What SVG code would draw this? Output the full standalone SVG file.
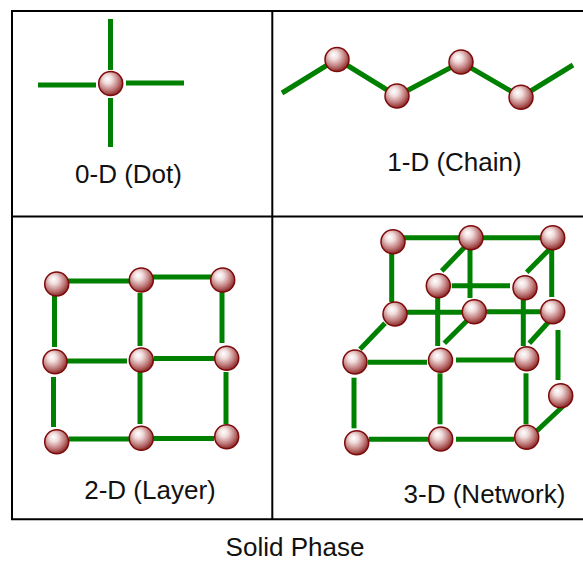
<svg xmlns="http://www.w3.org/2000/svg" xmlns:xlink="http://www.w3.org/1999/xlink" width="583" height="561" viewBox="0 0 583 561">
  <defs>
    <radialGradient id="ball" cx="0.42" cy="0.38" r="0.62" fx="0.36" fy="0.3">
      <stop offset="0" stop-color="#ffffff"/>
      <stop offset="0.3" stop-color="#f0dcdc"/>
      <stop offset="0.7" stop-color="#c07a7a"/>
      <stop offset="1" stop-color="#8c2a2a"/>
    </radialGradient>
  </defs>
  <style>
    .frame { stroke: #000; stroke-width: 2; fill: none; }
    .bond { stroke: #008000; stroke-width: 5; fill: none; }
    .atom { fill: url(#ball); stroke: #7d0a0a; stroke-width: 1.5; }
    .label { font-family: "Liberation Sans", Arial, sans-serif; font-size: 26px; fill: #111; text-anchor: middle; }
  </style>
  <rect width="583" height="561" fill="#fff"/>

  <!-- panel frame -->
  <g id="frame" class="frame">
    <line x1="12" y1="11" x2="585" y2="11"/>
    <line x1="12" y1="10" x2="12" y2="520"/>
    <line x1="11" y1="519.3" x2="585" y2="519.3"/>
    <line x1="272.3" y1="11" x2="272.3" y2="519"/>
    <line x1="12" y1="216.5" x2="585" y2="216.5"/>
  </g>

  <!-- bonds -->
  <g id="bonds" class="bond">
    <!-- 0-D -->
    <line x1="110.5" y1="19" x2="110.5" y2="70"/>
    <line x1="110.5" y1="98" x2="110.5" y2="147"/>
    <line x1="38" y1="85" x2="96" y2="85"/>
    <line x1="126" y1="83" x2="184" y2="83"/>
    <!-- 1-D -->
    <polyline points="282,93 337,59 397,96 461,62 521,97 573,65"/>
    <!-- 2-D -->
    <line x1="68" y1="281" x2="129" y2="281"/>
    <line x1="153" y1="277" x2="211" y2="277"/>
    <line x1="54.5" y1="296" x2="54.5" y2="347"/>
    <line x1="140" y1="293" x2="140" y2="346"/>
    <line x1="222" y1="292" x2="222" y2="343"/>
    <line x1="66" y1="361" x2="127" y2="361"/>
    <line x1="154" y1="358.5" x2="214" y2="358.5"/>
    <line x1="53.5" y1="377" x2="53.5" y2="427"/>
    <line x1="140" y1="372" x2="140" y2="424"/>
    <line x1="226" y1="372" x2="226" y2="424"/>
    <line x1="69" y1="439" x2="129" y2="439"/>
    <line x1="154" y1="438.5" x2="214" y2="438.5"/>
    <!-- 3-D -->
    <line x1="401" y1="237.7" x2="461" y2="237.7"/>
    <line x1="483" y1="237.7" x2="542" y2="237.7"/>
    <line x1="391.7" y1="252" x2="391.7" y2="302"/>
    <line x1="470" y1="247" x2="470" y2="298"/>
    <line x1="551.7" y1="248" x2="551.7" y2="297"/>
    <line x1="466.7" y1="245" x2="441.7" y2="271"/>
    <line x1="551" y1="247.7" x2="526.7" y2="272.3"/>
    <line x1="451.7" y1="285.7" x2="510" y2="285.7"/>
    <line x1="437.7" y1="298" x2="437.7" y2="346"/>
    <line x1="523.3" y1="300" x2="523.3" y2="346"/>
    <line x1="407" y1="312.3" x2="462" y2="312.3"/>
    <line x1="486.7" y1="311.7" x2="540" y2="311.7"/>
    <line x1="385" y1="323.3" x2="360" y2="349.3"/>
    <line x1="466.7" y1="321" x2="444.3" y2="343.3"/>
    <line x1="548.3" y1="322.3" x2="529.3" y2="343.3"/>
    <line x1="558" y1="330" x2="558" y2="380"/>
    <line x1="368" y1="362.3" x2="427" y2="362.3"/>
    <line x1="456" y1="360" x2="514.3" y2="360"/>
    <line x1="354" y1="377.7" x2="354" y2="428.3"/>
    <line x1="440" y1="373.3" x2="440" y2="424.3"/>
    <line x1="526" y1="373.3" x2="526" y2="424.3"/>
    <line x1="369" y1="439.3" x2="428.3" y2="439.3"/>
    <line x1="456" y1="439.3" x2="514.3" y2="439.3"/>
    <line x1="536.7" y1="431" x2="564.3" y2="405"/>
  </g>

  <!-- atoms -->
  <g id="dot-atom"><circle class="atom" cx="110.7" cy="83.5" r="12"/></g>

  <g id="chain-atom-1"><circle class="atom" cx="337" cy="59.5" r="12"/></g>
  <g id="chain-atom-2"><circle class="atom" cx="397" cy="96" r="12"/></g>
  <g id="chain-atom-3"><circle class="atom" cx="461" cy="62" r="12"/></g>
  <g id="chain-atom-4"><circle class="atom" cx="521" cy="97.3" r="12"/></g>

  <g id="layer-atom-11"><circle class="atom" cx="56.7" cy="284" r="12"/></g>
  <g id="layer-atom-12"><circle class="atom" cx="141.3" cy="280" r="12"/></g>
  <g id="layer-atom-13"><circle class="atom" cx="222.7" cy="280" r="12"/></g>
  <g id="layer-atom-21"><circle class="atom" cx="55" cy="361.7" r="12"/></g>
  <g id="layer-atom-22"><circle class="atom" cx="141.3" cy="360" r="12"/></g>
  <g id="layer-atom-23"><circle class="atom" cx="226.7" cy="358.3" r="12"/></g>
  <g id="layer-atom-31"><circle class="atom" cx="56.7" cy="441.7" r="12"/></g>
  <g id="layer-atom-32"><circle class="atom" cx="141.3" cy="438.3" r="12"/></g>
  <g id="layer-atom-33"><circle class="atom" cx="226.7" cy="436.7" r="12"/></g>

  <g id="net-atom-a"><circle class="atom" cx="393" cy="241.7" r="12"/></g>
  <g id="net-atom-b"><circle class="atom" cx="471" cy="237.7" r="12"/></g>
  <g id="net-atom-c"><circle class="atom" cx="552.7" cy="237.7" r="12"/></g>
  <g id="net-atom-d"><circle class="atom" cx="438.3" cy="285.7" r="12"/></g>
  <g id="net-atom-e"><circle class="atom" cx="525" cy="287.7" r="12"/></g>
  <g id="net-atom-f"><circle class="atom" cx="395" cy="314" r="12"/></g>
  <g id="net-atom-g"><circle class="atom" cx="474.3" cy="311.7" r="12"/></g>
  <g id="net-atom-h"><circle class="atom" cx="552.7" cy="311.7" r="12"/></g>
  <g id="net-atom-i"><circle class="atom" cx="355" cy="362" r="12"/></g>
  <g id="net-atom-j"><circle class="atom" cx="440.5" cy="360.3" r="12"/></g>
  <g id="net-atom-k"><circle class="atom" cx="526.7" cy="358.7" r="12"/></g>
  <g id="net-atom-l"><circle class="atom" cx="560.7" cy="395.7" r="12"/></g>
  <g id="net-atom-m"><circle class="atom" cx="356.7" cy="442.7" r="12"/></g>
  <g id="net-atom-n"><circle class="atom" cx="440.7" cy="439" r="12"/></g>
  <g id="net-atom-o"><circle class="atom" cx="526.7" cy="437.3" r="12"/></g>

  <!-- captions -->
  <g id="captions">
    <text class="label" x="128.5" y="183">0-D (Dot)</text>
    <text class="label" x="454.5" y="171">1-D (Chain)</text>
    <text class="label" x="150" y="499">2-D (Layer)</text>
    <text class="label" x="484.5" y="503">3-D (Network)</text>
    <text class="label" x="295" y="555.5">Solid Phase</text>
  </g>
</svg>
